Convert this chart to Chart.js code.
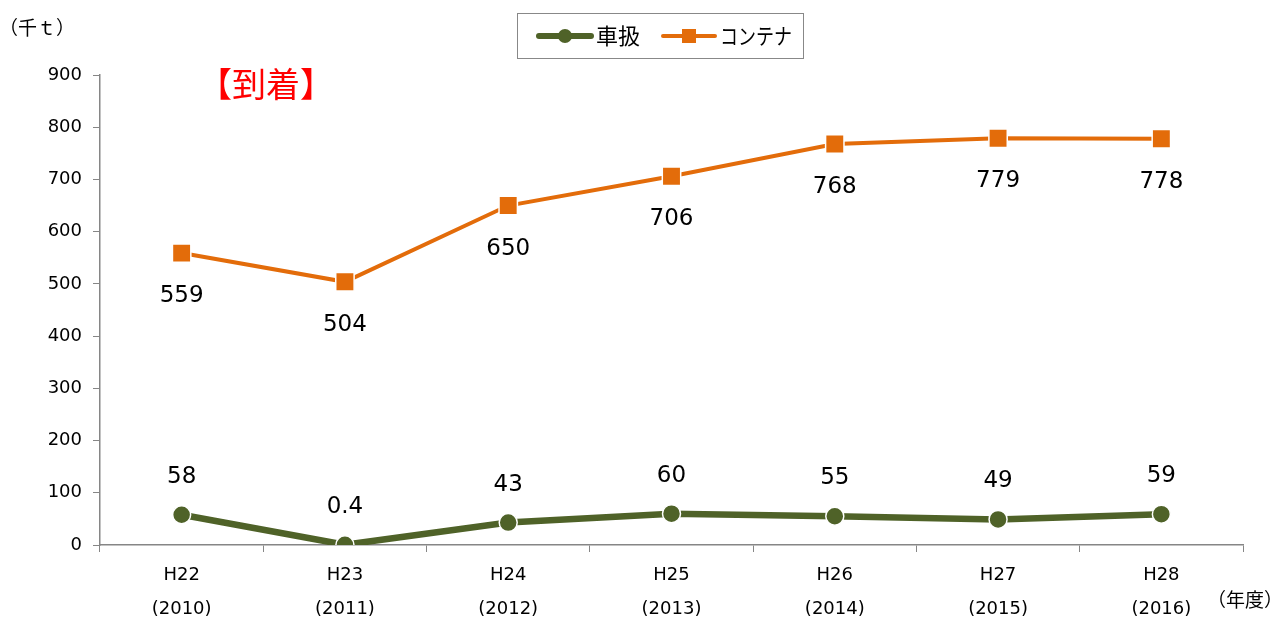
<!DOCTYPE html>
<html>
<head>
<meta charset="utf-8">
<script src="https://cdn.jsdelivr.net/npm/chart.js@4/dist/chart.umd.min.js"></script>
<style>
  html, body { margin: 0; padding: 0; background: #fff; }
  #wrap { width: 1284px; height: 619px; position: relative; }
</style>
</head>
<body>
<div id="wrap"><canvas id="myChart"></canvas></div>
<script>
const categories = [
  ["H22", "(2010)"], ["H23", "(2011)"], ["H24", "(2012)"], ["H25", "(2013)"],
  ["H26", "(2014)"], ["H27", "(2015)"], ["H28", "(2016)"],
];
const containerValues = [559, 504, 650, 706, 768, 779, 778];
const wagonValues = [58, 0.4, 43, 60, 55, 49, 59];
const seriesNames = ["車扱", "コンテナ"];

const FONT = '"DejaVu Sans", "Noto Sans CJK JP", sans-serif';
const JP_FONT = '"Noto Sans CJK JP", sans-serif';
const GREEN = "#4F6228";
const ORANGE = "#E36C0A";
const AXIS = "#868686";

// value labels + free texts + boxed legend
const extras = {
  id: "extras",
  afterDatasetsDraw(chart) {
    const ctx = chart.ctx;
    ctx.save();
    ctx.textAlign = "center";
    ctx.textBaseline = "middle";
    ctx.fillStyle = "#000";
    ctx.font = "23px " + FONT;
    chart.data.datasets.forEach((ds, i) => {
      const meta = chart.getDatasetMeta(i);
      meta.data.forEach((pt, j) => {
        const dy = ds.labelBelow ? 43 : -38;
        ctx.fillText(String(ds.data[j]), pt.x, pt.y + dy);
      });
    });

    // unit texts
    ctx.font = "19px " + JP_FONT;
    ctx.textAlign = "left";
    ctx.fillText("（千ｔ）", -1, 28);
    ctx.fillText("（年度）", 1207, 600);

    ctx.fillStyle = "#FF0000";
    ctx.font = "34px " + JP_FONT;
    ctx.fillText("【到着】", 198, 84);

    // legend box
    ctx.strokeStyle = "#888";
    ctx.lineWidth = 1;
    ctx.strokeRect(517.5, 13.5, 286, 45);
    const items = [
      { x: 537, color: GREEN, style: "circle", lw: 6, text: seriesNames[0], w: 44 },
      { x: 661, color: ORANGE, style: "rect", lw: 4, text: seriesNames[1], w: 72 },
    ];
    items.forEach(it => {
      ctx.strokeStyle = it.color;
      ctx.lineWidth = it.lw;
      ctx.lineCap = "round";
      ctx.beginPath();
      ctx.moveTo(it.x + 2, 36);
      ctx.lineTo(it.x + 54, 36);
      ctx.stroke();
      ctx.fillStyle = it.color;
      ctx.beginPath();
      if (it.style === "circle") ctx.arc(it.x + 28, 36, 7, 0, Math.PI * 2);
      else ctx.rect(it.x + 21, 29, 14, 14);
      ctx.fill();
      ctx.fillStyle = "#000";
      ctx.font = "22px " + JP_FONT;
      ctx.textAlign = "left";
      ctx.fillText(it.text, it.x + 59, 36, it.w);
    });
    ctx.restore();
  },
};

new Chart("myChart", {
  type: "line",
  data: {
    labels: categories,
    datasets: [
      {
        label: seriesNames[0],
        data: wagonValues,
        borderColor: GREEN,
        backgroundColor: GREEN,
        borderWidth: 6.5,
        pointStyle: "circle",
        pointRadius: 9,
        pointBorderColor: "#fff",
        pointBorderWidth: 1.5,
        pointBackgroundColor: GREEN,
        labelBelow: false,
      },
      {
        label: seriesNames[1],
        data: containerValues,
        borderColor: ORANGE,
        backgroundColor: ORANGE,
        borderWidth: 4,
        pointStyle: "rect",
        pointRadius: 13,
        pointBorderColor: "#fff",
        pointBorderWidth: 1.5,
        pointBackgroundColor: ORANGE,
        labelBelow: true,
      },
    ],
  },
  options: {
    responsive: true,
    maintainAspectRatio: false,
    animation: false,
    layout: { padding: { top: 75, right: 41, left: 0, bottom: 0 } },
    plugins: {
      legend: { display: false },
      tooltip: { enabled: false },
    },
    scales: {
      x: {
        offset: true,
        afterFit: (s) => { s.height = 74; },
        grid: {
          offset: true,
          drawOnChartArea: false,
          drawTicks: true,
          tickLength: 7,
          color: AXIS,
        },
        border: { color: AXIS, width: 1.5 },
        ticks: {
          color: "#000",
          padding: 7,
          maxRotation: 0,
          font: { family: FONT, size: 18, lineHeight: 1.85 },
        },
      },
      y: {
        min: 0,
        max: 900,
        afterFit: (s) => { s.width = 100; },
        grid: {
          drawOnChartArea: false,
          drawTicks: true,
          tickLength: 7,
          color: AXIS,
        },
        border: { color: AXIS, width: 1.5 },
        ticks: {
          stepSize: 100,
          color: "#000",
          padding: 11,
          font: { family: FONT, size: 18 },
        },
      },
    },
  },
  plugins: [extras],
});
</script>
</body>
</html>
